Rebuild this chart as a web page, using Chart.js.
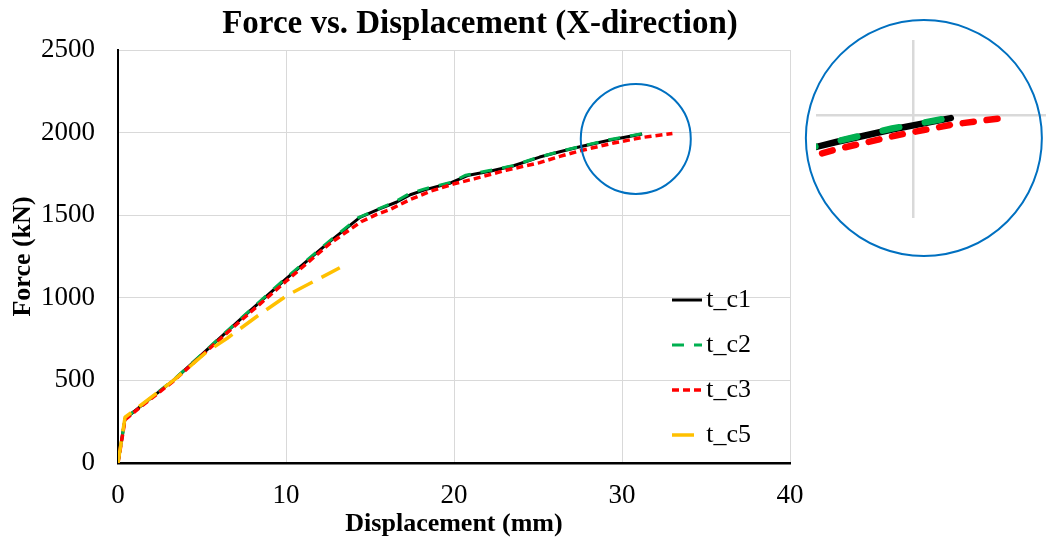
<!DOCTYPE html>
<html><head><meta charset="utf-8">
<script src="https://cdn.jsdelivr.net/npm/chart.js@4.4.1/dist/chart.umd.min.js"></script>
<style>
html,body{margin:0;padding:0;background:#fff;}
#wrap{position:relative;width:1046px;height:541px;overflow:hidden;}
#main{position:absolute;left:0;top:0;}
#inset{position:absolute;left:800px;top:15px;}
</style></head><body>
<div id="wrap">
<canvas id="main" width="1046" height="541"></canvas>
<canvas id="inset" width="246" height="247"></canvas>
</div>
<script>
// ---- data ----
const seriesNames = ['t_c1', 't_c2', 't_c3', 't_c5'];

const disp_c1  = [0, 0.42, 1.3, 3.3, 5.7, 7.2, 10.0, 12.6, 14.4, 15.6, 16.6, 17.4, 18.3, 19.8, 20.8, 22.2, 23.5, 25.1, 26.3, 27.5, 29.3, 31.2];
const force_c1 = [0, 268, 340, 500, 722, 862, 1115, 1340, 1487, 1540, 1580, 1624, 1655, 1695, 1740, 1768, 1798, 1852, 1884, 1914, 1955, 1992];

const disp_c2  = [0, 0.42, 1.3, 3.3, 5.7, 7.2, 10.0, 12.6, 14.3, 15.5, 16.5, 17.3, 18.2, 19.8, 20.7, 22.1, 23.5, 25.0, 26.3, 27.5, 29.3, 31.2];
const force_c2 = [0, 270, 342, 503, 725, 865, 1120, 1345, 1485, 1538, 1582, 1628, 1658, 1698, 1742, 1770, 1800, 1850, 1886, 1916, 1958, 1994];

const disp_c3  = [0, 0.42, 1.3, 3.3, 5.7, 7.2, 10.0, 12.6, 14.5, 15.4, 16.2, 17.4, 18.6, 20.0, 21.2, 23.1, 25.1, 26.3, 27.5, 29.5, 31.3, 33.0];
const force_c3 = [0, 262, 336, 496, 716, 852, 1100, 1328, 1462, 1505, 1535, 1595, 1645, 1690, 1720, 1772, 1818, 1856, 1890, 1937, 1972, 1994];

const disp_c5  = [0, 0.42, 1.3, 3.3, 5.3, 6.5, 8.3, 10.1, 12.2, 13.2];
const force_c5 = [0, 277, 345, 500, 674, 755, 890, 1017, 1128, 1182];

const xTickValues = [0, 10, 20, 30, 40];
const yTickValues = [0, 500, 1000, 1500, 2000, 2500];

const titleText = 'Force vs. Displacement (X-direction)';
const xTitle = 'Displacement (mm)';
const yTitle = 'Force (kN)';

// ---- styling ----
const FONT = "'Liberation Serif','Times New Roman',serif";
const colors = ['#000000', '#00B050', '#FF0000', '#FFC000'];
const widths = [3, 3, 3.5, 3.5];
const dashes = [[], [12, 10], [7, 4], [22, 10]];
const insetDashes = [[], [17, 26], [11, 13], [30, 16]];
const drawOrder = [4, 3, 2, 1];

const pts = (xs, ys) => xs.map((x, i) => ({x: x, y: ys[i]}));
const seriesData = [
  pts(disp_c1, force_c1),
  pts(disp_c2, force_c2),
  pts(disp_c3, force_c3),
  pts(disp_c5, force_c5)
];

function makeDatasets(inset) {
  return seriesNames.map((name, i) => ({
    label: name,
    data: seriesData[i],
    showLine: true,
    borderColor: colors[i],
    backgroundColor: colors[i],
    borderWidth: inset ? 6.5 : widths[i],
    borderDash: inset ? insetDashes[i] : dashes[i],
    borderCapStyle: inset ? 'round' : 'butt',
    borderJoinStyle: 'round',
    pointRadius: 0,
    pointHoverRadius: 0,
    tension: 0,
    order: drawOrder[i]
  }));
}

// circle marking the zoomed region (in data units, radius in px)
const zoomMark = {x: 30.82, y: 1962, r: 55};
const insetMark = {x: 30.33, y: 1927, r: 118};
const ringColor = '#0070C0';

const ringPlugin = (mark) => ({
  id: 'ring',
  afterDraw(chart) {
    const {ctx, scales} = chart;
    const cx = scales.x.getPixelForValue(mark.x);
    const cy = scales.y.getPixelForValue(mark.y);
    ctx.save();
    ctx.beginPath();
    ctx.arc(cx, cy, mark.r, 0, Math.PI * 2);
    ctx.lineWidth = 2;
    ctx.strokeStyle = ringColor;
    ctx.stroke();
    ctx.restore();
  }
});

const placeBoxes = {
  id: 'placeBoxes',
  afterLayout(chart) {
    const ca = chart.chartArea;
    const lg = chart.legend;
    if (lg) {
      lg.left = ca.right - 137;
      lg.right = ca.right - 39;
      lg.top = ca.top + 218;
      lg.bottom = lg.top + 300;
      lg.width = lg.right - lg.left;
      lg.height = lg.bottom - lg.top;
    }
    const tb = chart.titleBlock;
    if (tb) {
      tb.left = 0;
      tb.right = 960;
      tb.width = 960;
    }
  }
};

new Chart(document.getElementById('main'), {
  type: 'scatter',
  data: {datasets: makeDatasets(false)},
  options: {
    responsive: false,
    animation: false,
    events: [],
    layout: {padding: {left: 0, right: 256, top: 0, bottom: 0}},
    plugins: {
      tooltip: {enabled: false},
      title: {
        display: true,
        text: titleText,
        color: '#000',
        font: {family: FONT, size: 33, weight: 'bold'},
        padding: {top: 5, bottom: 5.4}
      },
      legend: {
        position: 'chartArea',
        align: 'start',
        labels: {
          font: {family: FONT, size: 26},
          color: '#000',
          usePointStyle: true,
          pointStyle: 'line',
          pointStyleWidth: 30,
          padding: 19,
          textAlign: 'right',
          generateLabels(chart) {
            return chart.data.datasets.map((ds, i) => ({
              text: ds.label,
              strokeStyle: ds.borderColor,
              fillStyle: ds.borderColor,
              lineWidth: ds.borderWidth,
              lineDash: ds.borderDash,
              lineCap: 'butt',
              pointStyle: 'line',
              hidden: false,
              datasetIndex: i,
              textAlign: 'right',
              fontColor: '#000'
            }));
          }
        }
      }
    },
    scales: {
      x: {
        type: 'linear',
        min: 0, max: 40,
        afterBuildTicks(s) { s.ticks = xTickValues.map(v => ({value: v})); },
        afterFit(s) { s.height = 78; },
        ticks: {font: {family: FONT, size: 27}, color: '#000', padding: 17, maxRotation: 0,
                callback: v => String(v)},
        grid: {color: '#d9d9d9', lineWidth: 1, drawTicks: false},
        border: {color: '#000', width: 2.5},
        title: {display: true, text: xTitle, color: '#000',
                font: {family: FONT, size: 26, weight: 'bold'}, padding: {top: 0, bottom: 1.5}}
      },
      y: {
        type: 'linear',
        min: 0, max: 2500,
        afterBuildTicks(s) { s.ticks = yTickValues.map(v => ({value: v})); },
        afterFit(s) { s.width = 118; },
        ticks: {font: {family: FONT, size: 27}, color: '#000', padding: 23,
                callback: v => String(v)},
        grid: {color: '#d9d9d9', lineWidth: 1, drawTicks: false},
        border: {color: '#000', width: 2},
        title: {display: true, text: yTitle, color: '#000',
                font: {family: FONT, size: 26, weight: 'bold'}, padding: {top: 7.4, bottom: 0}}
      }
    }
  },
  plugins: [placeBoxes, ringPlugin(zoomMark)]
});

// ---- magnified inset ----
new Chart(document.getElementById('inset'), {
  type: 'scatter',
  data: {datasets: makeDatasets(true)},
  options: {
    responsive: false,
    animation: false,
    events: [],
    layout: {padding: {left: 16, right: 0, top: 25, bottom: 44}},
    plugins: {legend: {display: false}, title: {display: false}, tooltip: {enabled: false}},
    scales: {
      x: {
        type: 'linear', min: 26.85, max: 34.27,
        afterBuildTicks(s) { s.ticks = [{value: 30}]; },
        afterFit(s) { s.height = 0; },
        ticks: {display: false},
        grid: {color: '#d9d9d9', lineWidth: 2.5, drawTicks: false},
        border: {display: false}
      },
      y: {
        type: 'linear', min: 1666, max: 2247,
        afterBuildTicks(s) { s.ticks = [{value: 2000}]; },
        afterFit(s) { s.width = 0; },
        ticks: {display: false},
        grid: {color: '#d9d9d9', lineWidth: 2.5, drawTicks: false},
        border: {display: false}
      }
    }
  },
  plugins: [ringPlugin(insetMark)]
});
</script>
</body></html>
